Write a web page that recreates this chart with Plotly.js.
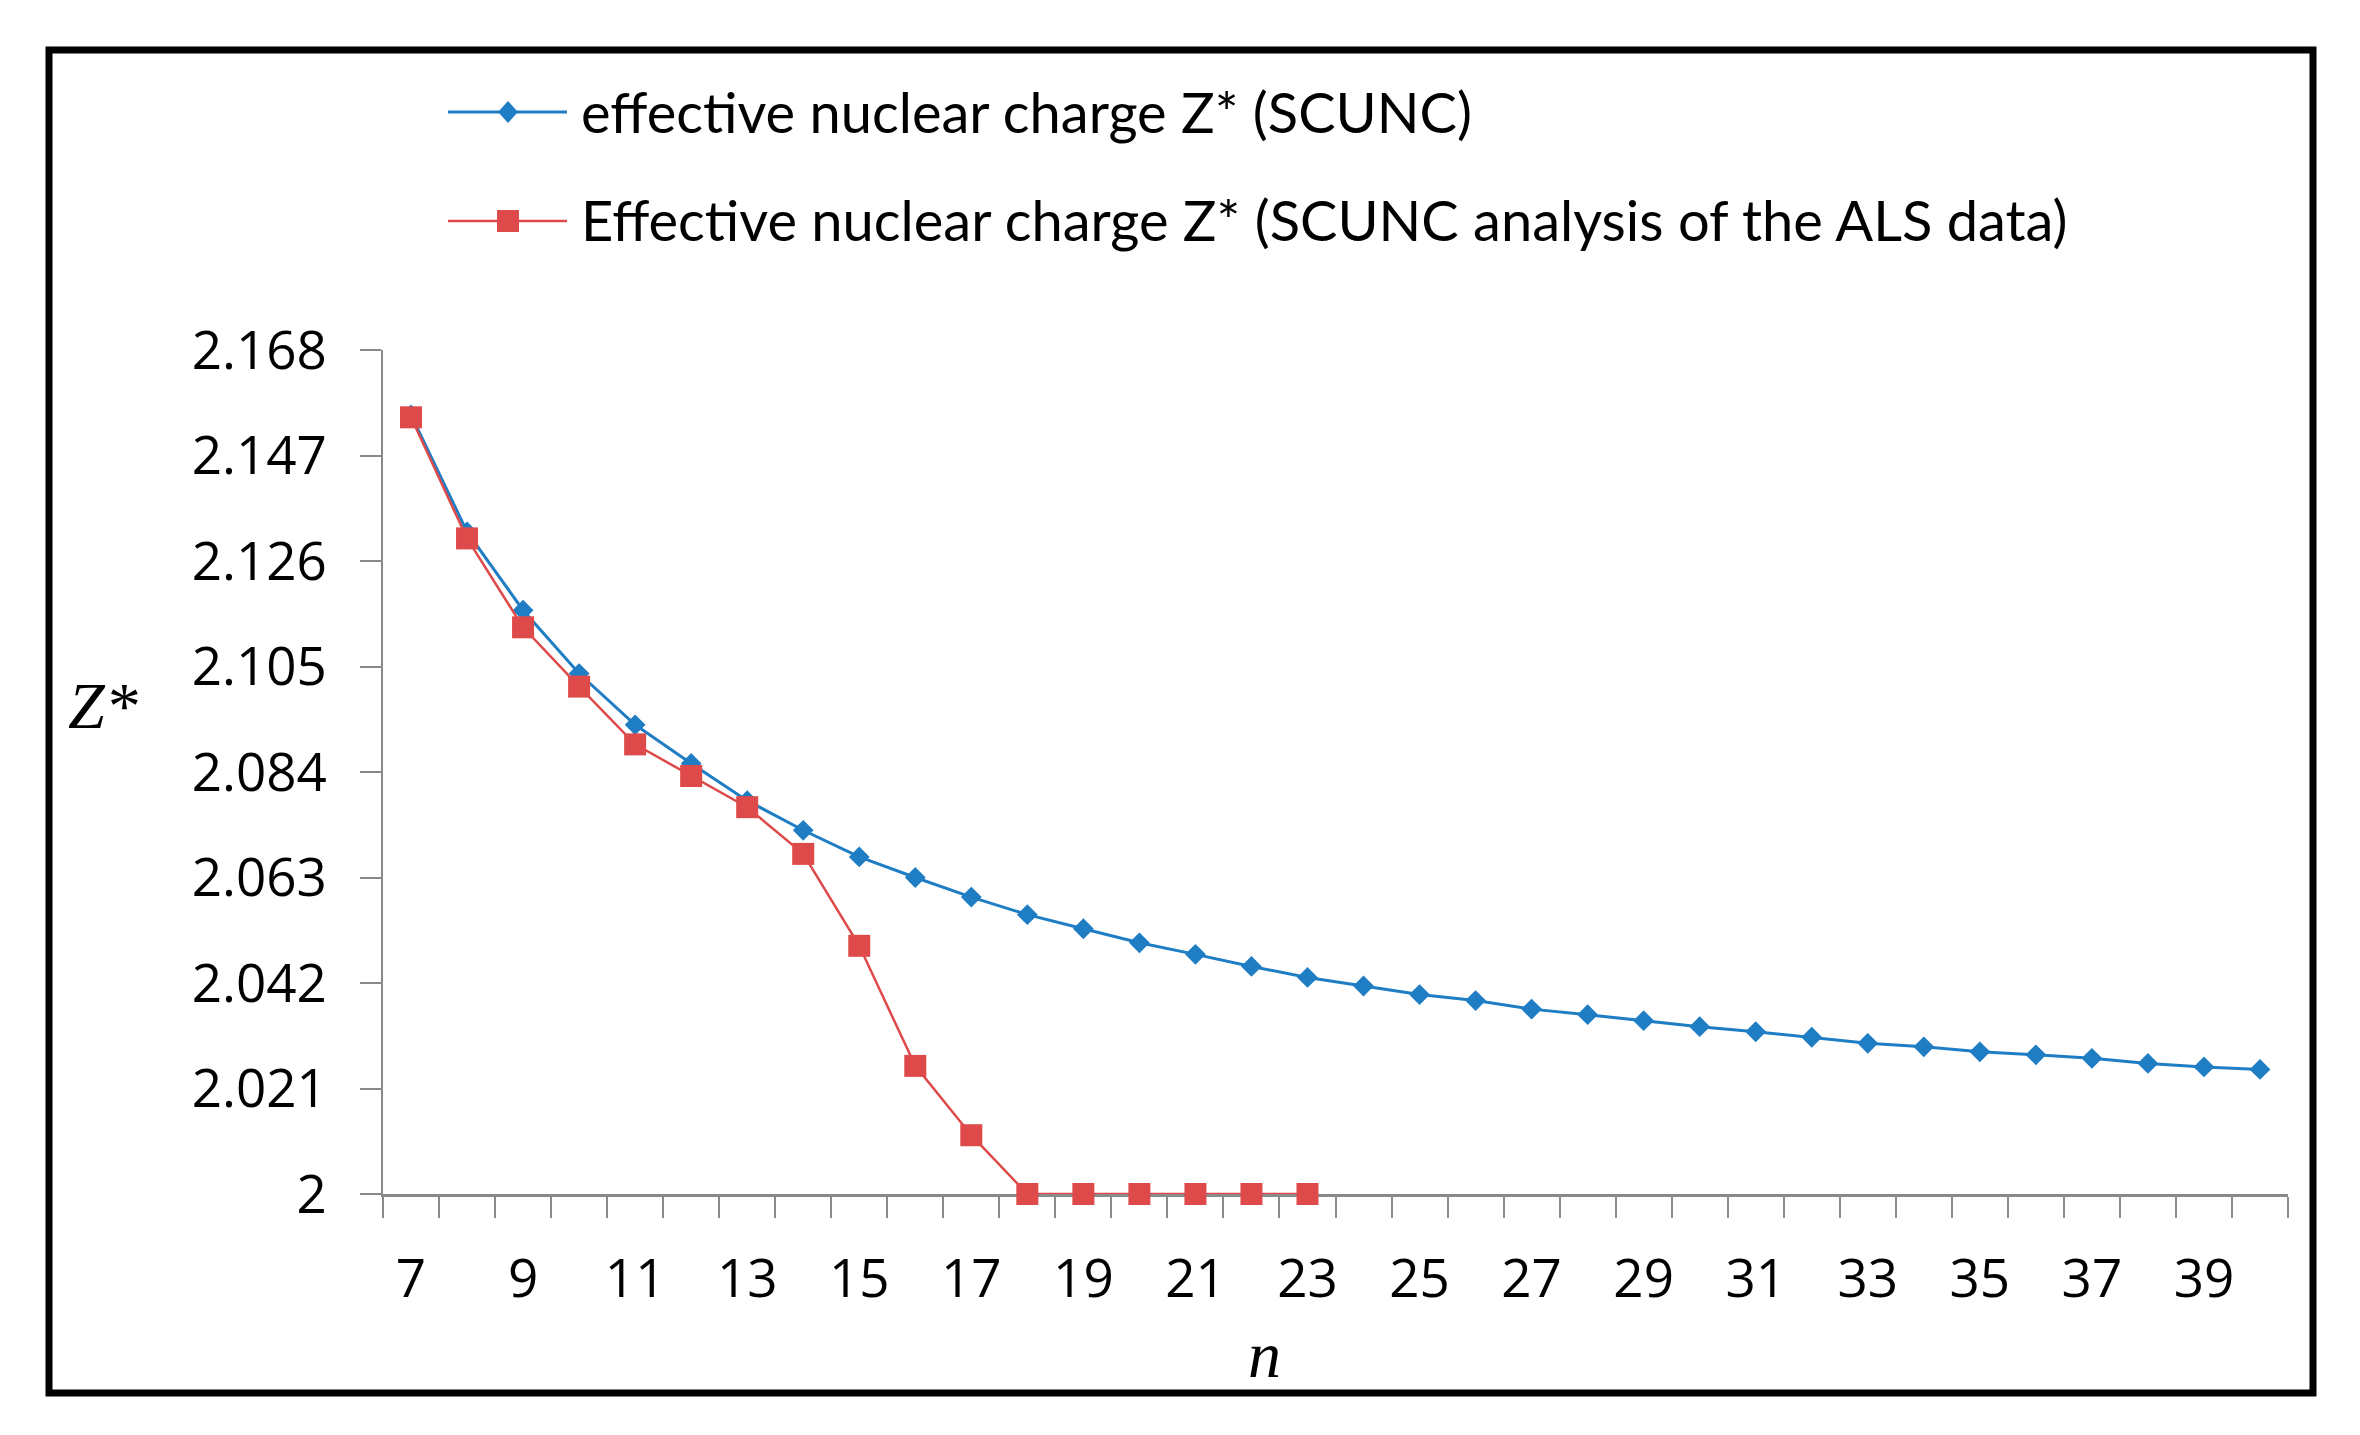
<!DOCTYPE html>
<html>
<head>
<meta charset="utf-8">
<script src="https://cdn.plot.ly/plotly-3.0.1.min.js"></script>
<style>
  html, body { margin: 0; padding: 0; background: #ffffff; }
  #chart { width: 2360px; height: 1435px; }
</style>
</head>
<body>
<div id="chart"></div>
<script>
// ---- data ----
const nScunc = [7, 8, 9, 10, 11, 12, 13, 14, 15, 16, 17, 18, 19, 20, 21, 22, 23,
                24, 25, 26, 27, 28, 29, 30, 31, 32, 33, 34, 35, 36, 37, 38, 39, 40];
const zScunc = [2.1551, 2.1318, 2.1162, 2.1036, 2.0934, 2.0857, 2.0783, 2.0724, 2.0671,
                2.0630, 2.0591, 2.0556, 2.0528, 2.0500, 2.0477, 2.0453, 2.0431, 2.0414,
                2.0397, 2.0385, 2.0368, 2.0357, 2.0345, 2.0333, 2.0323, 2.0312, 2.0300,
                2.0293, 2.0283, 2.0277, 2.0270, 2.0260, 2.0253, 2.0248];
const nAls = [7, 8, 9, 10, 11, 12, 13, 14, 15, 16, 17, 18, 19, 20, 21, 22, 23];
const zAls = [2.1546, 2.1305, 2.1128, 2.1010, 2.0895, 2.0832, 2.0770, 2.0677, 2.0494,
              2.0255, 2.0117, 2.0000, 2.0000, 2.0000, 2.0000, 2.0000, 2.0000];

const seriesNames = ["effective nuclear charge Z* (SCUNC)",
                     "Effective nuclear charge Z* (SCUNC analysis of the ALS data)"];
const xTickVals = [7, 9, 11, 13, 15, 17, 19, 21, 23, 25, 27, 29, 31, 33, 35, 37, 39];
const xTickText = ["7", "9", "11", "13", "15", "17", "19", "21", "23", "25", "27", "29",
                   "31", "33", "35", "37", "39"];
const yTickVals = [2, 2.021, 2.042, 2.063, 2.084, 2.105, 2.126, 2.147, 2.168];
const yTickText = ["2", "2.021", "2.042", "2.063", "2.084", "2.105", "2.126", "2.147", "2.168"];
const xTitle = "n";
const yTitle = "Z*";

// ---- styling / layout ----
const W = 2360, H = 1435;
const M = { l: 383, r: 72, t: 350, b: 241 };
const PW = W - M.l - M.r, PH = H - M.t - M.b;
const px = x => (x - M.l) / PW;              // pixel -> paper x
const py = y => (H - M.b - y) / PH;          // pixel -> paper y

const BLUE = "#1f7dc4";
const RED = "#de4a4a";
const AXIS = "#898989";

const traces = [
  {
    x: nScunc, y: zScunc, name: seriesNames[0], type: "scatter", mode: "lines+markers",
    line: { color: BLUE, width: 3 },
    marker: { symbol: "diamond", size: 16, color: BLUE },
    cliponaxis: false, showlegend: false
  },
  {
    x: nAls, y: zAls, name: seriesNames[1], type: "scatter", mode: "lines+markers",
    line: { color: RED, width: 2.5 },
    marker: { symbol: "square", size: 22, color: RED },
    cliponaxis: false, showlegend: false
  }
];

// custom legend (long sample lines like the original)
function legendShapes(yPix, color, symbol, lw) {
  const shapes = [{
    type: "line", xref: "paper", yref: "paper",
    x0: px(448), x1: px(567), y0: py(yPix), y1: py(yPix),
    line: { color: color, width: lw }
  }];
  const cx = 508;
  if (symbol === "diamond") {
    const hw = 10, hh = 11;
    shapes.push({
      type: "path", xref: "paper", yref: "paper",
      path: `M ${px(cx - hw)} ${py(yPix)} L ${px(cx)} ${py(yPix - hh)} L ${px(cx + hw)} ${py(yPix)} L ${px(cx)} ${py(yPix + hh)} Z`,
      fillcolor: color, line: { width: 0 }
    });
  } else {
    const h = 11;
    shapes.push({
      type: "rect", xref: "paper", yref: "paper",
      x0: px(cx - h), x1: px(cx + h), y0: py(yPix + h), y1: py(yPix - h),
      fillcolor: color, line: { width: 0 }
    });
  }
  return shapes;
}

const shapes = [
  // outer black frame
  {
    type: "rect", xref: "paper", yref: "paper",
    x0: px(49), x1: px(2313), y0: py(1393), y1: py(50),
    line: { color: "#000000", width: 7 }, fillcolor: "rgba(0,0,0,0)"
  },
  ...legendShapes(112, BLUE, "diamond", 3),
  ...legendShapes(221, RED, "square", 2.5)
];

const legendFont = { family: "Lato, 'Open Sans', sans-serif", size: 56, color: "#000000" };
const annotations = [
  { text: seriesNames[0], xref: "paper", yref: "paper", x: px(579), y: py(111),
    xanchor: "left", yanchor: "middle", showarrow: false, font: legendFont },
  { text: seriesNames[1], xref: "paper", yref: "paper", x: px(579), y: py(220),
    xanchor: "left", yanchor: "middle", showarrow: false, font: legendFont },
  { text: "<i>" + yTitle + "</i>", xref: "paper", yref: "paper", x: px(103), y: py(705),
    xanchor: "center", yanchor: "middle", showarrow: false,
    font: { family: "'Liberation Serif', 'Times New Roman', serif", size: 66, color: "#000" } },
  { text: "<i>" + xTitle + "</i>", xref: "paper", yref: "paper", x: px(1264), y: py(1354),
    xanchor: "center", yanchor: "middle", showarrow: false,
    font: { family: "'Liberation Serif', 'Times New Roman', serif", size: 66, color: "#000" } }
];

const tickFont = { family: "'Open Sans', 'Liberation Sans', sans-serif", size: 53, color: "#000000" };

const layout = {
  width: W, height: H, autosize: false,
  margin: { l: M.l, r: M.r, t: M.t, b: M.b, pad: 0 },
  paper_bgcolor: "#ffffff", plot_bgcolor: "#ffffff",
  showlegend: false,
  xaxis: {
    range: [6.5, 40.5], showgrid: false, zeroline: false,
    showline: true, linecolor: AXIS, linewidth: 3,
    tickmode: "array", tickvals: xTickVals, ticktext: xTickText,
    ticks: "outside", ticklen: 21, tickcolor: "rgba(0,0,0,0)",
    ticklabelstandoff: 15,
    tickfont: tickFont, layer: "below traces",
    minor: { tickmode: "linear", tick0: 6.5, dtick: 1, ticks: "outside", ticklen: 21,
             tickwidth: 2, tickcolor: AXIS, showgrid: false }
  },
  yaxis: {
    range: [2, 2.168], showgrid: false, zeroline: false,
    showline: true, linecolor: AXIS, linewidth: 2.5,
    tickmode: "array", tickvals: yTickVals, ticktext: yTickText,
    ticks: "outside", ticklen: 21, tickwidth: 2, tickcolor: AXIS,
    ticklabelstandoff: 22,
    tickfont: tickFont, layer: "below traces"
  },
  shapes: shapes,
  annotations: annotations
};

Plotly.newPlot("chart", traces, layout, { staticPlot: true, displayModeBar: false });
</script>
</body>
</html>
